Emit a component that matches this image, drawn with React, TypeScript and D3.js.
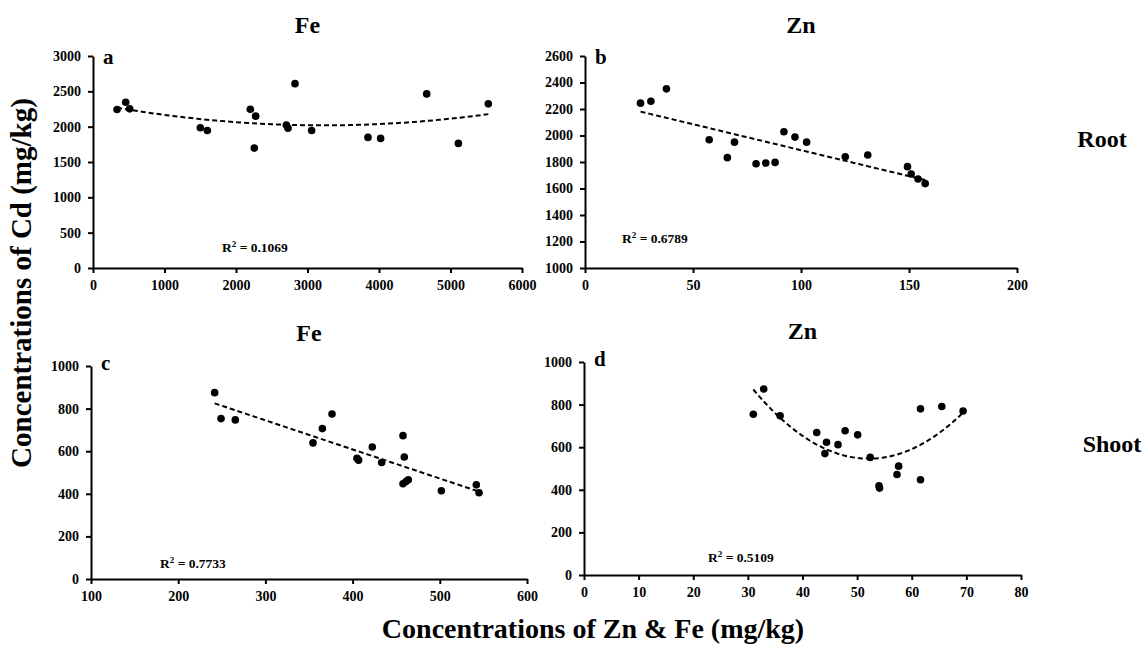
import React, { useRef, useEffect } from "react";
import * as d3 from "d3";

// Cd vs Fe / Zn, root (top row) and shoot (bottom row)
const feRootX = [336, 457, 513, 1501, 1599, 2200, 2275, 2256, 2704, 2727, 2825, 3058, 3846, 4023, 4667, 5110, 5529];
const feRootY = [2243, 2346, 2252, 1984, 1946, 2247, 2149, 1697, 2022, 1979, 2609, 1946, 1848, 1834, 2464, 1763, 2323];

const znRootX = [25.7, 30.5, 37.7, 57.5, 65.9, 69.2, 79.2, 83.7, 88.0, 92.1, 97.2, 102.6, 120.5, 130.9, 149.3, 151.0, 154.2, 157.5];
const znRootY = [2244, 2259, 2352, 1968, 1833, 1950, 1787, 1792, 1797, 2028, 1988, 1950, 1840, 1853, 1765, 1710, 1672, 1637];

const feShootX = [241.8, 249.1, 265.5, 354.6, 365.3, 376.4, 405.0, 406.9, 422.6, 433.3, 457.8, 459.3, 457.8, 461.2, 463.9, 501.8, 541.9, 545.0];
const feShootY = [875, 753, 747, 639, 706, 775, 567, 558, 620, 547, 673, 573, 447, 458, 466, 414, 442, 405];

const znShootX = [31.0, 32.9, 35.9, 42.6, 44.4, 44.1, 46.5, 47.8, 50.1, 52.4, 54.0, 54.1, 57.3, 57.6, 61.6, 61.6, 65.5, 69.4];
const znShootY = [755, 873, 748, 669, 623, 570, 612, 677, 658, 552, 419, 408, 472, 511, 780, 447, 791, 770];

const panelLetters = ["a", "b", "c", "d"];
const panelTitles = ["Fe", "Zn", "Fe", "Zn"];
const r2Labels = ["0.1069", "0.6789", "0.7733", "0.5109"];
const trendDegree = [2, 1, 1, 2];
const xTicks = [d3.range(0, 6001, 1000), d3.range(0, 201, 50), d3.range(100, 601, 100), d3.range(0, 81, 10)];
const yTicks = [d3.range(0, 3001, 500), d3.range(1000, 2601, 200), d3.range(0, 1001, 200), d3.range(0, 1001, 200)];
const rowLabels = ["Root", "Shoot"];
const yTitle = "Concentrations of Cd (mg/kg)";
const xTitle = "Concentrations of Zn & Fe (mg/kg)";

const FONT = "'Liberation Serif', 'Times New Roman', serif";

// least squares polynomial (what the spreadsheet trendline does)
function polyfit(xs: number[], ys: number[], deg: number): number[] {
  const n = deg + 1;
  const A: number[][] = [];
  for (let i = 0; i < n; i++) {
    const row: number[] = [];
    for (let j = 0; j < n; j++) row.push(d3.sum(xs, (x) => Math.pow(x, i + j)));
    row.push(d3.sum(xs, (x, k) => ys[k] * Math.pow(x, i)));
    A.push(row);
  }
  for (let c = 0; c < n; c++) {
    let p = c;
    for (let r = c + 1; r < n; r++) if (Math.abs(A[r][c]) > Math.abs(A[p][c])) p = r;
    [A[c], A[p]] = [A[p], A[c]];
    for (let r = 0; r < n; r++) {
      if (r === c) continue;
      const f = A[r][c] / A[c][c];
      for (let k = c; k <= n; k++) A[r][k] -= f * A[c][k];
    }
  }
  return A.map((row, i) => row[n] / row[i]);
}

function App() {
  const svgRef = useRef<SVGSVGElement>(null);

  useEffect(() => {
    const svg = d3.select(svgRef.current);
    svg.selectAll("*").remove();

    const data = [
      [feRootX, feRootY],
      [znRootX, znRootY],
      [feShootX, feShootY],
      [znShootX, znShootY],
    ];
    // plot boxes: left, right, top, bottom
    const boxes = [
      [93, 522, 56, 268],
      [585, 1017, 56, 268],
      [91, 527, 366, 579],
      [584, 1021, 362, 575],
    ];
    const titleY = [33, 33, 341, 339];
    const r2Pos = [[222, 252], [622, 243], [160, 568], [708, 562]];

    data.forEach(([xs, ys], i) => {
      const [l, r, t, b] = boxes[i];
      const xt = xTicks[i];
      const yt = yTicks[i];
      const x = d3.scaleLinear().domain([xt[0], xt[xt.length - 1]]).range([l, r]);
      const y = d3.scaleLinear().domain([yt[0], yt[yt.length - 1]]).range([b, t]);
      const g = svg.append("g");

      const xAxis = g
        .append("g")
        .attr("transform", `translate(0,${b})`)
        .call(d3.axisBottom(x).tickValues(xt).tickSize(5).tickSizeOuter(0).tickPadding(7).tickFormat((d) => String(d)));
      const yAxis = g
        .append("g")
        .attr("transform", `translate(${l},0)`)
        .call(d3.axisLeft(y).tickValues(yt).tickSize(5).tickSizeOuter(0).tickPadding(7).tickFormat((d) => String(d)));
      [xAxis, yAxis].forEach((ax) => {
        ax.select(".domain").attr("stroke", "#000").attr("stroke-width", 2);
        ax.selectAll(".tick line").attr("stroke", "#000").attr("stroke-width", 2);
        ax.selectAll(".tick text").attr("font-size", 14);
      });

      // trendline
      const coef = polyfit(xs, ys, trendDegree[i]);
      const [x0, x1] = d3.extent(xs) as [number, number];
      const samples = d3.range(0, 61).map((k) => x0 + ((x1 - x0) * k) / 60);
      const fx = (v: number) => coef.reduce((s, c, p) => s + c * Math.pow(v, p), 0);
      g.append("path")
        .attr("d", d3.line<number>().x((v) => x(v)).y((v) => y(fx(v)))(samples))
        .attr("fill", "none")
        .attr("stroke", "#000")
        .attr("stroke-width", 2)
        .attr("stroke-dasharray", "5,3");

      g.selectAll("circle")
        .data(xs)
        .join("circle")
        .attr("cx", (d) => x(d))
        .attr("cy", (d, k) => y(ys[k]))
        .attr("r", 3.8)
        .attr("fill", "#000");

      g.append("text")
        .attr("x", l + 10)
        .attr("y", t + (i < 2 ? 8 : 4))
        .attr("font-size", 21)
        .text(panelLetters[i]);

      g.append("text")
        .attr("x", (l + r) / 2)
        .attr("y", titleY[i])
        .attr("text-anchor", "middle")
        .attr("font-size", 24)
        .text(panelTitles[i]);

      const r2 = g.append("text").attr("x", r2Pos[i][0]).attr("y", r2Pos[i][1]).attr("font-size", 13.5);
      r2.append("tspan").text("R");
      r2.append("tspan").attr("font-size", 9).attr("dy", -5).text("2");
      r2.append("tspan").attr("dy", 5).text(" = " + r2Labels[i]);
    });

    svg.append("text").attr("x", 1102).attr("y", 147).attr("text-anchor", "middle").attr("font-size", 24).text(rowLabels[0]);
    svg.append("text").attr("x", 1112).attr("y", 452).attr("text-anchor", "middle").attr("font-size", 24).text(rowLabels[1]);
    svg.append("text")
      .attr("transform", "translate(31,283) rotate(-90)")
      .attr("text-anchor", "middle")
      .attr("font-size", 29)
      .text(yTitle);
    svg.append("text").attr("x", 593).attr("y", 638).attr("text-anchor", "middle").attr("font-size", 28).text(xTitle);

    svg.selectAll("text").attr("font-family", FONT).attr("font-weight", "bold").attr("fill", "#000");
  }, []);

  return (
    <svg
      ref={svgRef}
      width={1148}
      height={657}
      style={{ position: "absolute", left: 0, top: 0, background: "#fff" }}
    />
  );
}

export default App;
